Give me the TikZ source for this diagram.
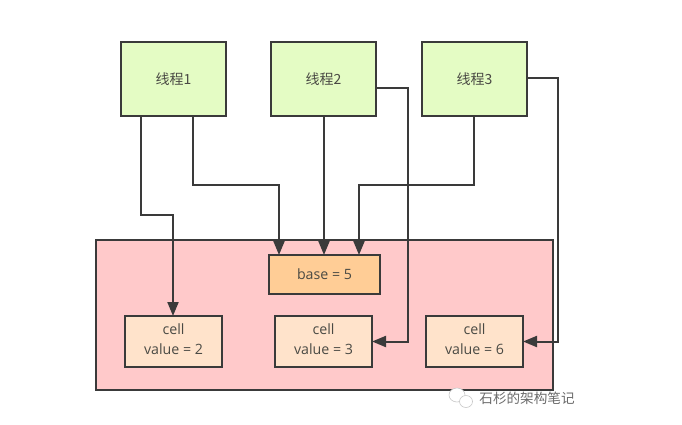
\documentclass[tikz,border=0pt]{standalone}
\usepackage{fontspec}
\setmainfont{Open Sans}
\newfontfamily\cjk{Noto Sans CJK SC}
\usetikzlibrary{arrows.meta,calc}
\definecolor{lineC}{HTML}{3A3A3A}
\definecolor{txtC}{HTML}{4A4A44}
\definecolor{threadC}{HTML}{E4FCC4}
\definecolor{cellC}{HTML}{FFE3CB}
\definecolor{baseC}{HTML}{FFCD96}
\definecolor{groupC}{HTML}{FFC9CA}
\newcommand{\lowpad}{\rule[-4pt]{0pt}{4pt}}
\tikzset{
  boxbase/.style={draw=lineC,line width=2pt,inner sep=0pt,outer sep=0pt,anchor=north west,text=txtC,align=center,font=\fontsize{14.2}{20}\selectfont},
  thread/.style={boxbase,fill=threadC},
  cellbox/.style={boxbase,fill=cellC},
  conn/.style={draw=lineC,line width=2pt,-{Triangle[length=14pt,width=11pt]}},
}
\begin{document}
\begin{tikzpicture}[x=1pt,y=-1pt]
\useasboundingbox (0,0) rectangle (682,424);
\fill[white] (0,0) rectangle (682,424);
\node[boxbase,fill=groupC,minimum width=457pt,minimum height=150pt] (group) at (96,240) {};
\node[thread,minimum width=105pt,minimum height=74pt] (t1) at (121,42) {\cjk\fontsize{14}{20}\selectfont 线程1};
\node[thread,minimum width=105pt,minimum height=74pt] (t2) at (271,42) {\cjk\fontsize{14}{20}\selectfont 线程2};
\node[thread,minimum width=105pt,minimum height=74pt] (t3) at (422,42) {\cjk\fontsize{14}{20}\selectfont 线程3};
\node[boxbase,fill=baseC,minimum width=111pt,minimum height=39pt] (base) at (269,255) {base = 5};
\node[cellbox,minimum width=97pt,minimum height=51pt] (c1) at (125,316) {cell\\value = 2\lowpad};
\node[cellbox,minimum width=97pt,minimum height=51pt] (c2) at (275,316) {cell\\value = 3\lowpad};
\node[cellbox,minimum width=97pt,minimum height=51pt] (c3) at (426,316) {cell\\value = 6\lowpad};
% anchor points on the box borders
\coordinate (t1a) at ($(t1.south west)+(20,0)$);
\coordinate (t1b) at ($(t1.south west)+(72,0)$);
\coordinate (b1) at ($(base.north west)+(10,0)$);
\coordinate (b3) at ($(base.north west)+(90,0)$);
\coordinate (t3b) at ($(t3.south west)+(52,0)$);
\coordinate (t2r) at ($(t2.north east)+(0,46)$);
\coordinate (t3r) at ($(t3.north east)+(0,36)$);
\coordinate (c1n) at ($(c1.north west)+(48,0)$);
\coordinate (t2s) at ($(t2.south west)+(53,0)$);
\draw[conn] (t1a) |- (c1n |- 0,215) -- (c1n);
\draw[conn] (t1b) |- (b1 |- 0,185) -- (b1);
\draw[conn] (t2s) -- (t2s |- base.north);
\draw[conn] (t2r) -| (408,0 |- c2.east) -- (c2.east);
\draw[conn] (t3b) |- (b3 |- 0,185) -- (b3);
\draw[conn] (t3r) -| (558,0 |- c3.east) -- (c3.east);
% watermark
\fill[white,draw=black!22,line width=0.6pt] (457,395) ellipse (8pt and 7pt);
\fill[white,draw=black!22,line width=0.6pt] (466,401.5) ellipse (6.5pt and 6pt);
\node[text=black!58,font=\cjk\fontsize{13.6}{15}\selectfont,inner sep=0pt] (wm) at (527,398) {石杉的架构笔记};
\end{tikzpicture}
\end{document}
